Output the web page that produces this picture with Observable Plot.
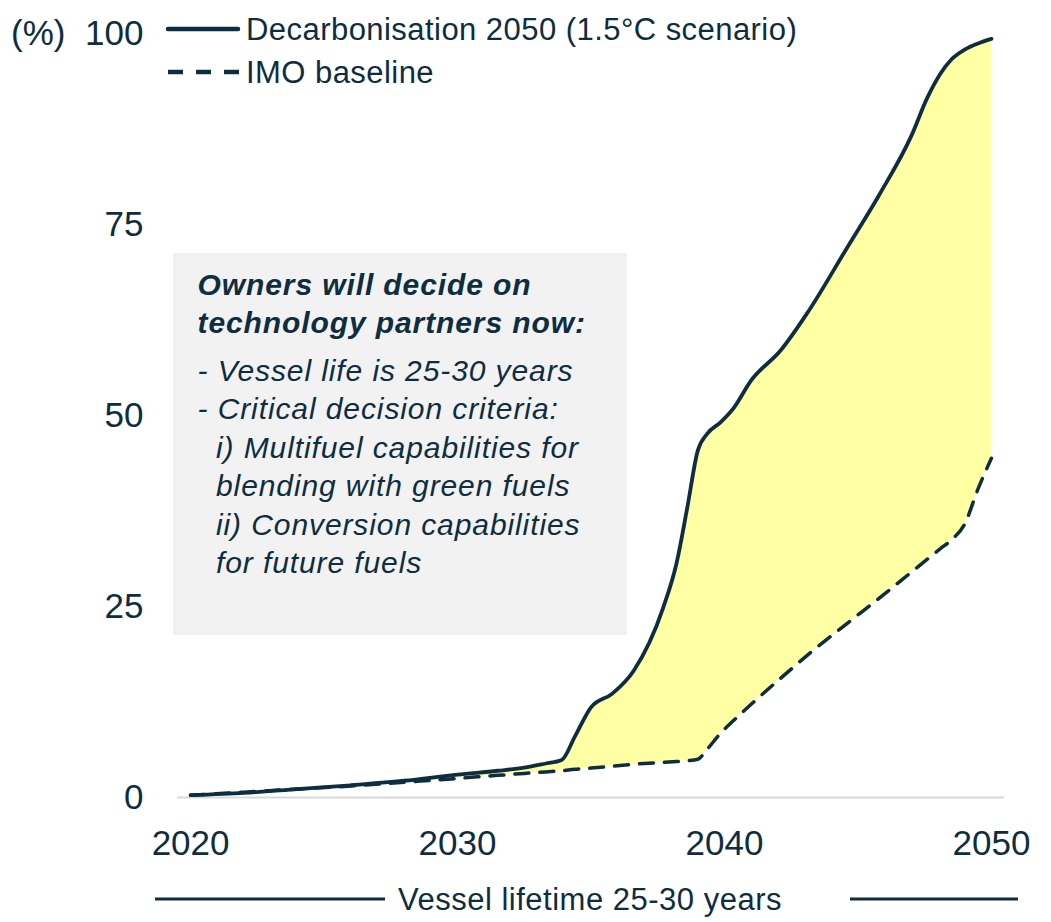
<!DOCTYPE html>
<html>
<head>
<meta charset="utf-8">
<script src="https://cdn.jsdelivr.net/npm/d3@7"></script>
<script src="https://cdn.jsdelivr.net/npm/@observablehq/plot@0.6"></script>
<style>
  html, body { margin: 0; padding: 0; background: #fff; }
  #chart { position: relative; width: 1051px; height: 922px; font-family: "Liberation Sans", Arial, sans-serif; color: #0e2d40; }
  #chart svg.plot { position: absolute; left: 0; top: 0; }
  #chart svg.plot g[aria-label="text"] text { letter-spacing: 0.9px; }
  .overlay { position: absolute; left: 0; top: 0; pointer-events: none; }
</style>
</head>
<body>
<div id="chart"></div>
<script>
// Share of fleet (%), by year
const years = [2020, 2022, 2024, 2026, 2028, 2030, 2031.5, 2032.5, 2033.3, 2033.9, 2034.4, 2035, 2035.8,
  2036.6, 2037.7, 2038.2, 2038.6, 2039, 2039.35, 2039.85, 2040.35, 2041, 2042.1, 2043.1, 2044.6,
  2045.8, 2047, 2047.6, 2048.1, 2048.5, 2049, 2049.5, 2050];

// Decarbonisation 2050 (1.5°C scenario)
const decarbonisation = [0.3, 0.6, 1.1, 1.6, 2.2, 3.0, 3.5, 3.9, 4.45, 4.9, 8.0, 11.8, 13.6,
  16.6, 24.8, 30.6, 37.8, 45.4, 47.6, 49.1, 51.0, 54.6, 58.5, 63.4, 72.0,
  78.9, 86.6, 91.6, 94.8, 96.6, 97.9, 98.7, 99.3];

// IMO baseline
const imoBaseline = [0.3, 0.7, 1.1, 1.5, 2.0, 2.5, 2.9, 3.15, 3.35, 3.5, 3.7, 3.85, 4.1,
  4.35, 4.6, 4.7, 4.8, 5.0, 6.3, 8.4, 10.1, 12.2, 15.6, 18.6, 22.8,
  26.1, 29.5, 31.2, 32.6, 33.7, 35.8, 40.4, 44.4];

const xTicks = [2020, 2030, 2040, 2050];
const yTicks = [0, 25, 50, 75, 100];

const seriesNames = ["Decarbonisation 2050 (1.5°C scenario)", "IMO baseline"];
const unitLabel = "(%)";
const spanLabel = "Vessel lifetime 25-30 years";
const noteTitle = ["Owners will decide on", "technology partners now:"];
const noteBody = [
  "- Vessel life is 25-30 years",
  "- Critical decision criteria:",
  "  i) Multifuel capabilities for",
  "  blending with green fuels",
  "  ii) Conversion capabilities",
  "  for future fuels"
];

const ink = "#0e2d40";
const font = "'Liberation Sans', Arial, sans-serif";

const table = years.map((year, i) => ({year, dec: decarbonisation[i], imo: imoBaseline[i]}));

const plot = Plot.plot({
  width: 1051,
  height: 922,
  marginLeft: 177,
  marginRight: 47,
  marginTop: 33,
  marginBottom: 125,
  style: {fontFamily: font, fontSize: "35px", color: ink, background: "transparent", overflow: "visible"},
  x: {domain: [2019.51, 2050.49], ticks: xTicks, tickFormat: d => String(d), tickSize: 0, tickPadding: 33, label: null},
  y: {domain: [0, 100], ticks: yTicks, tickSize: 0, tickPadding: 34, label: null},
  marks: [
    Plot.ruleY([0], {stroke: "#d9d9d9", strokeWidth: 2}),
    // Annotation panel
    Plot.rect([{x1: 2019.36, x2: 2036.36, y1: 21.2, y2: 71.2}], {x1: "x1", x2: "x2", y1: "y1", y2: "y2", fill: "#f2f2f2"}),
    Plot.text([noteTitle.join("\n")], {
      x: () => 2020.26, y: () => 69.2, text: d => d,
      textAnchor: "start", lineAnchor: "top", lineHeight: 1.25,
      fontSize: 30, fontWeight: "bold", fontStyle: "italic", fill: ink
    }),
    Plot.text([noteBody.join("\n")], {
      x: () => 2020.26, y: () => 58.1, text: d => d,
      textAnchor: "start", lineAnchor: "top", lineHeight: 1.283,
      fontSize: 30, fontStyle: "italic", fill: ink
    }),
    // Gap between the two pathways
    Plot.areaY(table, {x: "year", y1: "imo", y2: "dec", fill: "#ffffa3", curve: "monotone-x"}),
    Plot.line(table, {x: "year", y: "imo", stroke: ink, strokeWidth: 3.5, strokeDasharray: "14,11", curve: "monotone-x"}),
    Plot.line(table, {x: "year", y: "dec", stroke: ink, strokeWidth: 3.8, curve: "monotone-x"})
  ]
});
plot.classList.add("plot");

const chart = document.getElementById("chart");
chart.appendChild(plot);

// Legend, unit label and the lifetime bracket beneath the axis
const over = d3.select(chart).append("svg")
  .attr("class", "overlay")
  .attr("width", 1051).attr("height", 922)
  .style("font-family", font).style("fill", ink);

over.append("text").attr("x", 11).attr("y", 45).attr("font-size", 35).text(unitLabel);

over.append("line").attr("x1", 168).attr("x2", 238).attr("y1", 29).attr("y2", 29)
  .attr("stroke", ink).attr("stroke-width", 4.5).attr("stroke-linecap", "round");
over.append("line").attr("x1", 168).attr("x2", 240).attr("y1", 72).attr("y2", 72)
  .attr("stroke", ink).attr("stroke-width", 4.5).attr("stroke-dasharray", "15,13");
over.append("text").attr("x", 246).attr("y", 40).attr("font-size", 31)
  .style("letter-spacing", "0.45px").text(seriesNames[0]);
over.append("text").attr("x", 246).attr("y", 83).attr("font-size", 31)
  .style("letter-spacing", "0.45px").text(seriesNames[1]);

over.append("line").attr("x1", 155).attr("x2", 385).attr("y1", 899).attr("y2", 899)
  .attr("stroke", ink).attr("stroke-width", 3);
over.append("line").attr("x1", 850).attr("x2", 1018).attr("y1", 899).attr("y2", 899)
  .attr("stroke", ink).attr("stroke-width", 3);
over.append("text").attr("x", 590).attr("y", 910).attr("font-size", 31)
  .attr("text-anchor", "middle").style("letter-spacing", "0.5px").text(spanLabel);
</script>
</body>
</html>
